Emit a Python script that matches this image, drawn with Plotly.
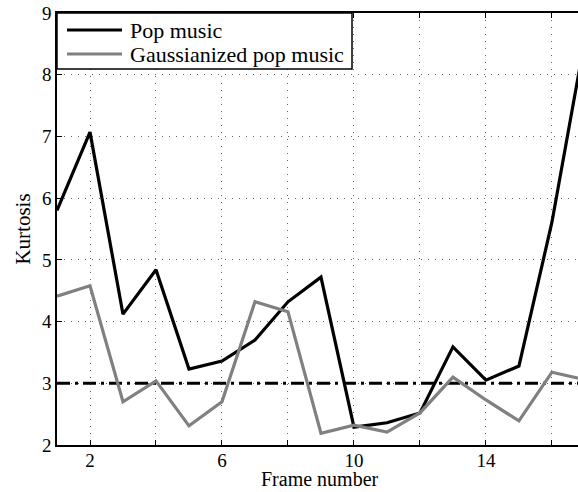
import plotly.graph_objects as go

frames = list(range(1, 18))
pop_music = [5.80, 7.07, 4.12, 4.84, 3.23, 3.36, 3.70, 4.32, 4.72, 2.29, 2.36, 2.52, 3.59, 3.05, 3.28, 5.61, 8.58]
gauss_pop = [4.41, 4.58, 2.70, 3.04, 2.31, 2.70, 4.32, 4.16, 2.19, 2.32, 2.21, 2.52, 3.10, 2.73, 2.39, 3.18, 3.06]
gaussian_kurtosis = 3
series_names = ["Pop music", "Gaussianized pop music"]
series_colors = ["black", "#808080"]
x_tickvals = [2, 4, 6, 8, 10, 12, 14, 16]
x_ticktext = ["2", "", "6", "", "10", "", "14", ""]
y_tickvals = [2, 3, 4, 5, 6, 7, 8, 9]

FONT = "Liberation Serif"
W, H = 578, 492
L, R, T, B = 57, 0, 13, 47
PW, PH = W - L - R, H - T - B


def px_x(px):
    return (px - L) / PW


def px_y(py):
    return (H - B - py) / PH


fig = go.Figure()
fig.add_trace(go.Scatter(x=[frames[0], frames[-1]], y=[gaussian_kurtosis, gaussian_kurtosis],
                         mode="lines", showlegend=False, hoverinfo="skip",
                         line=dict(color="black", width=3, dash="13px,5px,3px,5px")))
for name, vals, col in zip(series_names, [pop_music, gauss_pop], series_colors):
    fig.add_trace(go.Scatter(x=frames, y=vals, mode="lines", name=name, showlegend=False,
                             line=dict(color=col, width=3.2)))

grid = dict(showgrid=True, gridcolor="#666666", griddash="1px,6px", gridwidth=1, zeroline=False)

# legend box drawn in paper coordinates
shapes = [dict(type="rect", xref="paper", yref="paper",
               x0=px_x(57), x1=px_x(352), y0=px_y(69), y1=px_y(13),
               line=dict(color="black", width=1.5), fillcolor="white", layer="above")]
annotations = []
for i, (name, col) in enumerate(zip(series_names, series_colors)):
    ly = 30 + i * 24
    shapes.append(dict(type="line", xref="paper", yref="paper",
                       x0=px_x(67), x1=px_x(122), y0=px_y(ly), y1=px_y(ly),
                       line=dict(color=col, width=3.2), layer="above"))
    annotations.append(dict(xref="paper", yref="paper", x=px_x(128), y=px_y(ly + 1),
                            text=name, showarrow=False, xanchor="left", yanchor="middle",
                            font=dict(family=FONT, size=22, color="black")))
annotations.append(dict(xref="paper", yref="paper", x=px_x(320), y=px_y(492),
                        text="Frame number", showarrow=False, xanchor="center", yanchor="bottom",
                        font=dict(family=FONT, size=20, color="black")))

fig.update_layout(
    width=W, height=H,
    margin=dict(l=L, r=R, t=T, b=B, autoexpand=False),
    paper_bgcolor="white", plot_bgcolor="white",
    font=dict(family=FONT, size=19, color="black"),
    showlegend=False,
    shapes=shapes, annotations=annotations,
    xaxis=dict(range=[1, 16.79], tickvals=x_tickvals, ticktext=x_ticktext,
               showline=True, linecolor="black", linewidth=1.5, mirror="ticks",
               ticks="inside", ticklen=5, tickcolor="black", automargin=False,
               ticklabelstandoff=-3,
               **grid),
    yaxis=dict(range=[2, 9], tickvals=y_tickvals,
               showline=True, linecolor="black", linewidth=1.5, mirror=False,
               ticks="inside", ticklen=5, tickcolor="black", automargin=False,
               title=dict(text="Kurtosis", standoff=6, font=dict(size=21)),
               **grid),
)

fig.write_html("out.html", config={"displayModeBar": False})
with open("out.html", encoding="utf-8") as f:
    html = f.read()
html = html.replace("<body>", '<body style="margin:0;padding:0;overflow:hidden">', 1)
with open("out.html", "w", encoding="utf-8") as f:
    f.write(html)
